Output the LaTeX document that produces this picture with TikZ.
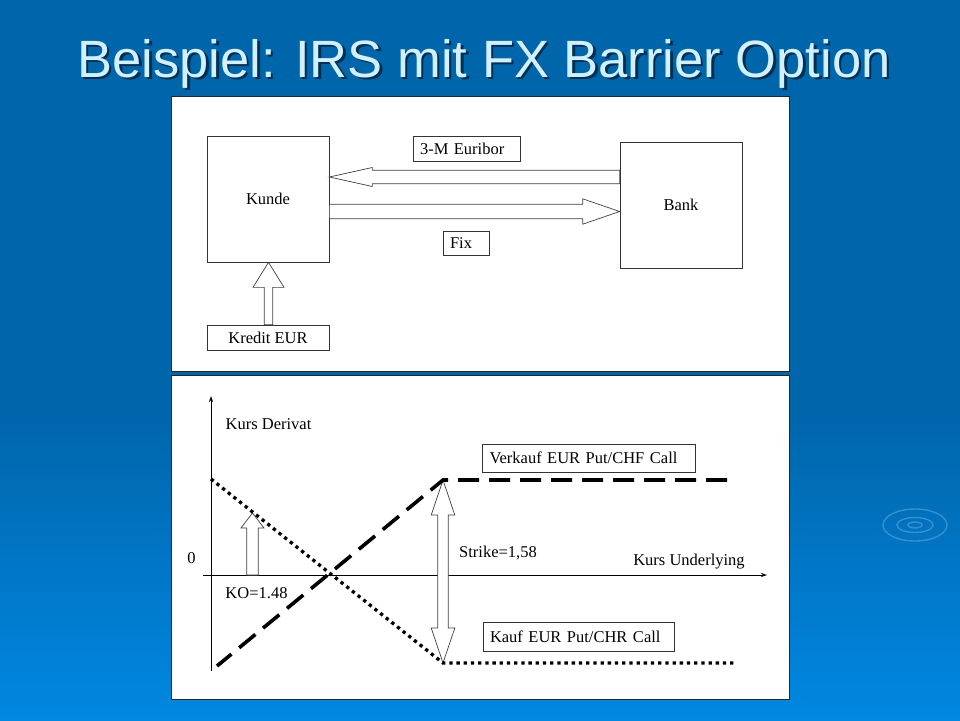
\documentclass[tikz,border=0pt]{standalone}
\usepackage{fontspec}
\setmainfont{Liberation Serif}
\newfontfamily\titlefont{Liberation Sans}
\usetikzlibrary{calc,arrows.meta}
\definecolor{bgtop}{HTML}{0066AC}
\definecolor{bgbot}{HTML}{0088E2}
\definecolor{titlecol}{HTML}{D2F0FF}
\definecolor{shadowcol}{HTML}{00233F}
\tikzset{
  panel/.style={draw=black!85, line width=0.8pt, fill=white},
  box/.style={draw=black!80, line width=0.7pt, fill=white, inner sep=0pt,
    font=\fontsize{16.5}{19}\selectfont},
  lbox/.style={box, inner xsep=7pt, align=left},
  lbl/.style={font=\fontsize{16.5}{19}\selectfont, inner sep=0pt, anchor=base},
  blockarrow/.style={draw=black!75, line width=0.7pt, fill=white, line join=miter},
  axisline/.style={line width=0.8pt, -{Stealth[length=6pt,width=4pt]}},
  dashcurve/.style={line width=3.6pt, dash pattern=on 21pt off 10pt},
  dotcurve/.style={line width=3.3pt, dash pattern=on 3.3pt off 3.9pt},
  ripple/.style={draw=white, opacity=0.22, line width=1.4pt},
}
% block arrow from #1 to tip #2: shaft half width #3, head half width #4, head length #5
\newcommand\myblockarrow[5]{%
  \coordinate (ba-h) at ($(#2)!#5!(#1)$);
  \draw[blockarrow] ($(#1)!#3!90:(#2)$) -- ($(ba-h)!#3!90:(#2)$) -- ($(ba-h)!#4!90:(#2)$)
    -- (#2) -- ($(ba-h)!#4!-90:(#2)$) -- ($(ba-h)!#3!-90:(#2)$) -- ($(#1)!#3!-90:(#2)$) -- cycle;
}
% double-headed block arrow between tips #1 and #2
\newcommand\mydblarrow[5]{%
  \coordinate (da-a) at ($(#1)!#5!(#2)$);
  \coordinate (da-b) at ($(#2)!#5!(#1)$);
  \draw[blockarrow] (#1) -- ($(da-a)!#4!90:(#2)$) -- ($(da-a)!#3!90:(#2)$) -- ($(da-b)!#3!90:(#2)$)
    -- ($(da-b)!#4!90:(#2)$) -- (#2) -- ($(da-b)!#4!-90:(#2)$) -- ($(da-b)!#3!-90:(#2)$)
    -- ($(da-a)!#3!-90:(#2)$) -- ($(da-a)!#4!-90:(#2)$) -- cycle;
}
\begin{document}
\begin{tikzpicture}[x=1pt,y=-1pt]
\useasboundingbox (0,0) rectangle (960,720);
% background
\fill[bgtop] (0,0) rectangle (960,421);
\shade[top color=bgtop, bottom color=bgbot] (0,420) rectangle (960,720);
\draw[ripple] (915,525) ellipse [x radius=7pt, y radius=3pt];
\draw[ripple] (915,525) ellipse [x radius=18pt, y radius=7.5pt];
\draw[ripple] (915,525) ellipse [x radius=32pt, y radius=16pt];
% title
\node[font=\titlefont\fontsize{52.5}{60}\selectfont, text=shadowcol, anchor=base, opacity=0.8]
  at (486.5,79.5) {Beispiel: IRS mit FX Barrier Option};
\node[font=\titlefont\fontsize{52.5}{60}\selectfont, text=titlecol, anchor=base]
  (title) at (484,77) {Beispiel: IRS mit FX Barrier Option};
% panels
\draw[panel] (171,96) rectangle (789,371);
\draw[panel] (171,375) rectangle (789,699);

% ---------- top panel ----------
\node[box, minimum width=122pt, minimum height=126pt] (kunde) at (268,199) {Kunde};
\node[box, minimum width=122pt, minimum height=126pt] (bank) at (681,205) {Bank};
\node[lbox, text width=93pt, minimum height=25pt] (eur) at (466.5,148.5) {3-M Euribor};
\node[lbox, text width=32pt, minimum height=24pt] (fix) at (466,243) {Fix};
\node[box, minimum width=122pt, minimum height=25pt] (kredit) at (268,337.5) {Kredit EUR};

\coordinate (eurS) at ([yshift=28pt]bank.west);
\coordinate (eurT) at (kunde.east |- eurS);
\myblockarrow{eurS}{eurT}{6.7pt}{9.5pt}{43pt}
\coordinate (fixT) at ([yshift=-6.5pt]bank.west);
\coordinate (fixS) at (kunde.east |- fixT);
\myblockarrow{fixS}{fixT}{7.2pt}{12.7pt}{37pt}
\coordinate (kreS) at ([xshift=0.5pt]kredit.north);
\coordinate (kreT) at (kreS |- kunde.south);
\myblockarrow{kreS}{kreT}{4.3pt}{15.5pt}{25pt}

% ---------- bottom panel ----------
\coordinate (yb) at (211,671);
\coordinate (yt) at (211,396);
\coordinate (xl) at (203,575);
\coordinate (xr) at (767,575);
\draw[axisline] (yb) -- (yt);
\draw[axisline] (xl) -- (xr);

\node[lbl] (kd) at (268.5,429) {Kurs Derivat};
\node[lbl] (zero) at (191.5,563) {0};
\node[lbl] (ko) at (256.5,598) {KO=1.48};
\node[lbl] (strike) at (498,557) {Strike=1,58};
\node[lbl] (ku) at (689,565) {Kurs Underlying};

\node[lbox, text width=199pt, minimum height=28pt] (verk) at (589,458) {Verkauf EUR Put/CHF Call};
\node[lbox, text width=177pt, minimum height=29pt] (kauf) at (578.5,636.5) {Kauf EUR Put/CHR Call};

\coordinate (d0) at (217,666);
\coordinate (dk) at (443,480);
\coordinate (d1) at (727,480);
\coordinate (p0) at (211,479);
\coordinate (pk) at (443,663);
\coordinate (p1) at (736,663);
\coordinate (ko0) at (252.5,575);
\coordinate (ko1) at (252.5,513);

\mydblarrow{dk}{pk}{5.3pt}{11.8pt}{35pt}
\myblockarrow{ko0}{ko1}{5.8pt}{11.5pt}{15pt}

\draw[dashcurve] (d1) -- (dk) -- (d0);
\draw[dotcurve] (p0) -- (pk) -- (p1);
\end{tikzpicture}
\end{document}
